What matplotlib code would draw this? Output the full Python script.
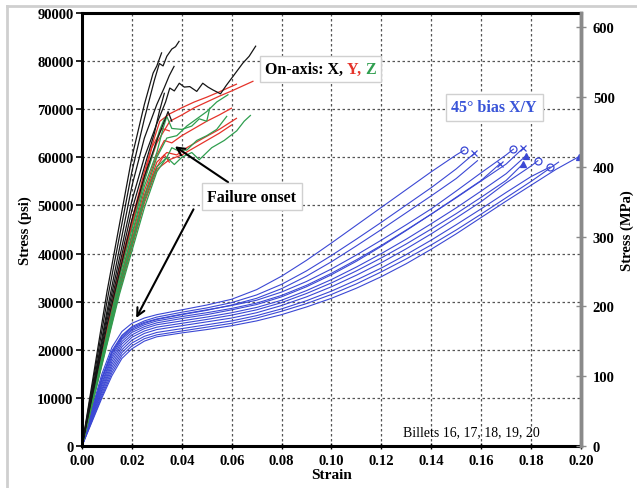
import numpy as np
import matplotlib
matplotlib.use("Agg")
import matplotlib.pyplot as plt
from matplotlib.lines import Line2D
from matplotlib.offsetbox import TextArea, HPacker, AnnotationBbox

plt.rcParams['font.family'] = ['Liberation Serif', 'DejaVu Serif']
plt.rcParams['font.weight'] = 'bold'
plt.rcParams['axes.labelweight'] = 'bold'

# ---- 45 deg bias X/Y curves (strain, psi) ----
bias_grid = [0, .004, .008, .012, .016, .02, .025, .03, .04, .05, .06, .07, .08, .09, .10,
             .11, .12, .13, .14, .15, .16, .17, .18, .19]
bias_A = [0, 7800, 15000, 20500, 23800, 25500, 26600, 27300, 28300, 29300, 30500, 32500, 35300, 38600, 42200,
          45900, 49600, 53300, 57000, 60500]
bias_B = [0, 7400, 14300, 19800, 23000, 24800, 26000, 26800, 27800, 28700, 29800, 31400, 33600, 36400, 39600,
          43000, 46500, 50100, 53700, 57600]
bias_C = [0, 7000, 13800, 19200, 22500, 24300, 25500, 26300, 27300, 28200, 29300, 30700, 32700, 35300, 38300,
          41600, 45000, 48500, 52000, 55600]
bias_D = [0, 7200, 14000, 19500, 22800, 24600, 25700, 26400, 27400, 28300, 29200, 30300, 32000, 34200, 36800,
          39700, 42800, 46000, 49300, 53000, 56800, 60500]
bias_E = [0, 6800, 13200, 18700, 22200, 24000, 25200, 26000, 26900, 27700, 28600, 29700, 31300, 33400, 35900,
          38700, 41700, 44900, 48200, 51600, 55100, 58600]
bias_F = [0, 6500, 12800, 18200, 21700, 23600, 24800, 25600, 26500, 27300, 28300, 29400, 31000, 33100, 35600,
          38400, 41500, 44800, 48200, 51700, 55200]
bias_G = [0, 6300, 12300, 17600, 21200, 23100, 24400, 25200, 26000, 26800, 27700, 28800, 30300, 32300, 34600,
          37200, 40000, 43000, 46200, 49500, 53000, 56600]
bias_H = [0, 6000, 11800, 17000, 20600, 22600, 23900, 24700, 25500, 26300, 27200, 28300, 29800, 31700, 33900,
          36400, 39100, 42000, 45100, 48300, 51700, 55200]
bias_I = [0, 5800, 11400, 16400, 20000, 22000, 23400, 24200, 25000, 25800, 26600, 27700, 29200, 31000, 33100,
          35500, 38100, 41000, 44100, 47400, 50800, 54700, 58200]
bias_J = [0, 5500, 10900, 15800, 19400, 21400, 22800, 23600, 24400, 25200, 26000, 27100, 28500, 30200, 32200,
          34500, 37000, 39800, 42800, 46000, 49300, 52700, 56000]
bias_K = [0, 5200, 10400, 15200, 18800, 20800, 22300, 23100, 23900, 24700, 25500, 26600, 28000, 29600, 31500,
          33700, 36200, 38900, 41800, 44900, 48200, 51600, 55000]
bias_L = [0, 5000, 10000, 14600, 18200, 20200, 21800, 22700, 23500, 24200, 25000, 26000, 27300, 28900, 30700,
          32800, 35200, 37900, 40900, 44100, 47500, 50900, 54200, 57500]
bias_curves = [bias_A, bias_B, bias_C, bias_D, bias_E, bias_F, bias_G, bias_H, bias_I, bias_J, bias_K, bias_L]
bias_end_strain = [0.1532, 0.1572, 0.1585, 0.1729, 0.1768, 0.1676, 0.1779, 0.1769, 0.1827, 0.1876, 0.1910, 0.1992]
bias_end_stress = [61500, 60800, 59300, 61700, 61900, 58700, 60300, 58700, 59300, 58000, 59000, 60150]
bias_markers = ['o', 'x', None, 'o', 'x', 'x', '^', '^', 'o', 'o', None, '^']

# ---- on-axis X (black) ----
x_strain = [
    [0, .01, .02, .025, .029, .031, .0325, .034, .036, .0375, .0389],
    [0, .01, .02, .025, .0285, .030, .0319],
    [0, .01, .02, .025, .03, .033, .035, .0369],
    [0, .01, .02, .025, .03, .0335, .0352, .037, .039, .041, .0432, .046, .0484, .0505,
     .0525, .0555, .0579, .0605, .0645, .067, .0696],
    [0, .01, .02, .025, .029, .031, .033],
    [0, .01, .02, .025, .03, .0345, .036],
]
x_stress = [
    [0, 30000, 57000, 68000, 76000, 79500, 79000, 81000, 82500, 83000, 84100],
    [0, 32000, 60000, 71000, 77500, 79000, 81700],
    [0, 28000, 54000, 64000, 71000, 74500, 77000, 78900],
    [0, 27000, 51000, 60000, 67000, 71500, 74400, 73800, 75400, 74600, 74700, 73700, 75400, 74600,
     74000, 73200, 75000, 76800, 79600, 81000, 83100],
    [0, 26000, 49000, 58000, 65000, 69500, 73300],
    [0, 25000, 47000, 56000, 63500, 69500, 67500],
]

# ---- on-axis Y (red) ----
y_strain = [
    [0, .015, .025, .029, .0312, .035, .04, .045, .05, .055, .0619],
    [0, .015, .025, .03, .0352, .04, .045, .05, .055, .06, .0685],
    [0, .015, .025, .03, .033, .036, .04, .045, .05, .055, .0599],
    [0, .015, .025, .03, .034, .038, .042, .048, .055, .0619],
    [0, .015, .025, .03, .035, .04, .045, .05, .055, .0599],
    [0, .015, .025, .03, .033, .035],
    [0, .015, .025, .028, .032, .035],
]
y_stress = [
    [0, 37000, 57000, 64000, 67500, 69000, 70300, 71500, 72500, 73600, 75200],
    [0, 35500, 55500, 63000, 67500, 68800, 70300, 71500, 72700, 73800, 75800],
    [0, 34000, 53000, 60500, 63500, 63000, 64500, 66000, 67500, 68800, 70200],
    [0, 33000, 51500, 59000, 61000, 60500, 62000, 63800, 65800, 68100],
    [0, 32000, 50500, 57500, 59500, 60500, 62000, 63500, 65000, 66700],
    [0, 33500, 52000, 58000, 60500, 59000],
    [0, 36000, 56000, 62000, 66000, 65500],
]

# ---- on-axis Z (green) ----
z_strain = [
    [0, .015, .025, .03, .034, .038, .042, .046, .05, .054, .0585],
    [0, .015, .025, .03, .034, .037, .04, .044, .047, .052, .057, .062, .065, .0675],
    [0, .015, .025, .03, .0325, .034, .036, .04, .044, .047, .05, .0512],
    [0, .015, .025, .03, .034, .036, .038, .042, .046, .05, .054, .058],
    [0, .015, .025, .028, .031, .033],
]
z_stress = [
    [0, 33000, 52000, 60000, 64000, 64500, 66500, 68000, 69500, 71500, 73000],
    [0, 31500, 49500, 57000, 60000, 58500, 60000, 61000, 59500, 62000, 63500, 65500, 67500, 68700],
    [0, 34000, 54000, 61000, 66000, 68500, 66000, 65800, 66500, 68000, 67500, 70200],
    [0, 32500, 51000, 58000, 60000, 62000, 61500, 61500, 63500, 64500, 65800, 68500],
    [0, 35000, 55000, 60000, 65500, 68000],
]

PSI_TO_MPA = 0.00689476

fig = plt.figure(figsize=(6.37, 4.89), dpi=100)
ax = fig.add_axes([0.1287, 0.0859, 0.7834, 0.8855])

blue = '#3b48d4'
for vals, es, ep, mk in zip(bias_curves, bias_end_strain, bias_end_stress, bias_markers):
    s = bias_grid[:len(vals)] + [es]
    p = vals + [ep]
    ax.plot(s, p, color=blue, lw=0.8)
    if mk is not None:
        ax.plot([es], [ep], marker=mk, color=blue, ms=5, mew=0.9,
                mfc='none' if mk == 'o' else blue)

for s, p in zip(y_strain, y_stress):
    ax.plot(s, p, color='#e5332a', lw=0.9)
for s, p in zip(z_strain, z_stress):
    ax.plot(s, p, color='#2f9e4f', lw=0.9)
for s, p in zip(x_strain, x_stress):
    ax.plot(s, p, color='#151515', lw=0.9)

ax.set_xlim(0, 0.2)
ax.set_ylim(0, 90000)
ax.set_xticks(np.arange(0, 0.2001, 0.02))
ax.set_xticklabels(['%.2f' % v for v in np.arange(0, 0.2001, 0.02)])
ax.set_yticks(np.arange(0, 90001, 10000))
ax.grid(True, color='#555555', linestyle=(0, (2, 2)), lw=0.9)
ax.tick_params(axis='y', direction='out', length=4, width=1.2, labelsize=10.5, pad=2)
ax.tick_params(axis='x', direction='inout', length=5, width=1, labelsize=10.5, pad=3)
for side in ['left', 'bottom', 'top']:
    ax.spines[side].set_linewidth(2.2)
    ax.spines[side].set_color('black')
ax.spines['right'].set_linewidth(2.5)
ax.spines['right'].set_color('#8a8a8a')
ax.set_xlabel('Strain', fontsize=11, labelpad=1)
ax.set_ylabel('Stress (psi)', fontsize=10.5, labelpad=4)

ax2 = ax.twinx()
ax2.set_ylim(0, 90000 * PSI_TO_MPA)
ax2.set_yticks(np.arange(0, 601, 100))
ax2.tick_params(axis='y', direction='inout', length=7, width=1, color='#8a8a8a', labelsize=10.5, pad=5)
for side in ['left', 'bottom', 'top']:
    ax2.spines[side].set_visible(False)
ax2.spines['right'].set_linewidth(2.5)
ax2.spines['right'].set_color('#8a8a8a')
ax2.set_ylabel('Stress (MPa)', fontsize=10.5, labelpad=4)

# On-axis label with coloured letters
parts = [('On-axis: X, ', 'black'), ('Y, ', '#e5332a'), ('Z', '#2f9e4f')]
areas = [TextArea(t, textprops=dict(color=c, fontsize=11.5, fontweight='bold')) for t, c in parts]
pack = HPacker(children=areas, align='baseline', pad=0, sep=0)
ab = AnnotationBbox(pack, (0.0955, 78300), frameon=True, pad=0.35,
                    bboxprops=dict(facecolor='white', edgecolor='#d0d0d0', lw=1))
ax.add_artist(ab)

ax.text(0.1652, 70400, '45\u00b0 bias X/Y', color='#3a55d8', fontsize=11.5, ha='center', va='center',
        bbox=dict(facecolor='white', edgecolor='#d0d0d0', lw=1, boxstyle='square,pad=0.35'))

ax.text(0.0680, 51800, 'Failure onset', color='black', fontsize=11.5, ha='center', va='center',
        bbox=dict(facecolor='white', edgecolor='#d0d0d0', lw=1, boxstyle='square,pad=0.35'), zorder=5)
ax.annotate('', xy=(0.0212, 26100), xytext=(0.0452, 49700),
            arrowprops=dict(arrowstyle='->', color='black', lw=1.5, mutation_scale=14), zorder=4)
ax.annotate('', xy=(0.0363, 62600), xytext=(0.0595, 54500),
            arrowprops=dict(arrowstyle='->', color='black', lw=1.5, mutation_scale=14), zorder=4)

ax.text(0.1288, 2900, 'Billets 16, 17, 18, 19, 20', fontsize=10, fontweight='normal',
        ha='left', va='center')

# light frame of the original picture
fig.add_artist(Line2D([7 / 637, 1], [1 - 7 / 489, 1 - 7 / 489], color='#cfcfcf', lw=2, transform=fig.transFigure))
fig.add_artist(Line2D([7 / 637, 7 / 637], [0, 1 - 7 / 489], color='#cfcfcf', lw=2, transform=fig.transFigure))

fig.savefig('out.png', dpi=100)
